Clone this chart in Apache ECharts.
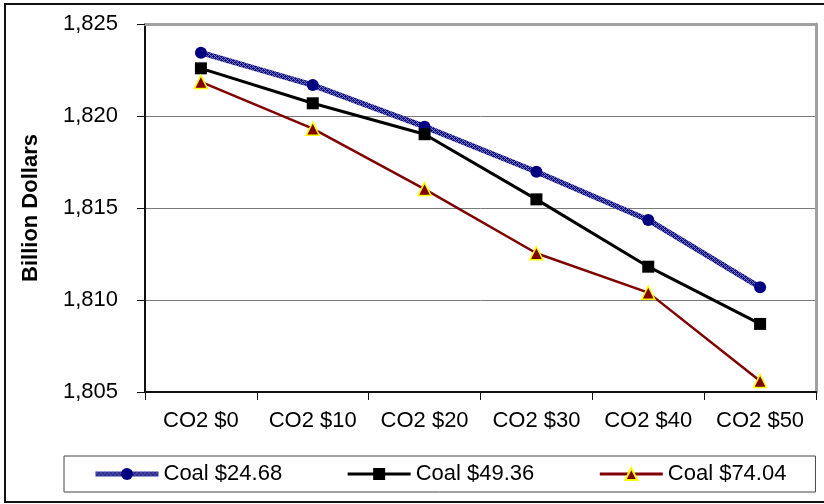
<!DOCTYPE html>
<html>
<head>
<meta charset="utf-8">
<style>
  html, body { margin: 0; padding: 0; background: #fff; }
  #chart { width: 824px; height: 504px; }
</style>
<script src="https://cdn.jsdelivr.net/npm/echarts@6/dist/echarts.min.js"></script>
</head>
<body>
<div id="chart"></div>
<script>
// Total cost (billion dollars) under CO2 price scenarios, by coal price
const categories = ['CO2 $0', 'CO2 $10', 'CO2 $20', 'CO2 $30', 'CO2 $40', 'CO2 $50'];
const coal2468 = [1823.44, 1821.68, 1819.42, 1816.97, 1814.35, 1810.69];
const coal4936 = [1822.59, 1820.69, 1819.01, 1815.47, 1811.81, 1808.70];
const coal7404 = [1821.85, 1819.31, 1816.03, 1812.54, 1810.40, 1805.60];
const seriesNames = ['Coal $24.68', 'Coal $49.36', 'Coal $74.04'];
const yMin = 1805, yMax = 1825, yStep = 5;

const FONT = "'Liberation Sans', Arial, sans-serif";

// Small dithered tile for the textured blue line
function makeHatch() {
  const c = document.createElement('canvas');
  c.width = 4; c.height = 4;
  const g = c.getContext('2d');
  g.fillStyle = '#7676bc';
  g.fillRect(0, 0, 4, 4);
  g.fillStyle = '#141484';
  [[0,0],[2,0],[1,1],[3,1],[0,2],[2,2],[1,3],[3,3],[1,0],[3,2]].forEach(p => g.fillRect(p[0], p[1], 1, 1));
  return c;
}
const hatch = { image: makeHatch(), repeat: 'repeat' };

const chart = echarts.init(document.getElementById('chart'), null, { renderer: 'canvas' });

chart.setOption({
  backgroundColor: '#ffffff',
  animation: false,
  textStyle: { fontFamily: FONT },
  graphic: [{
    type: 'rect',
    shape: { x: 5, y: 4, width: 840, height: 498 },
    style: { fill: 'none', stroke: '#111', lineWidth: 2 },
    silent: true
  }],
  grid: { left: 145, right: 8, top: 24, bottom: 112, containLabel: false },
  legend: {
    left: 64, top: 456,
    padding: [7, 29],
    itemGap: 64,
    itemWidth: 63,
    itemHeight: 15,
    borderColor: '#444',
    borderWidth: 1,
    textStyle: { fontSize: 22, color: '#000', fontFamily: FONT },
    data: [
      { name: seriesNames[0], lineStyle: { width: 5 } },
      { name: seriesNames[1], lineStyle: { width: 3 } },
      { name: seriesNames[2], lineStyle: { width: 3 } }
    ]
  },
  xAxis: [{
    type: 'category',
    data: categories,
    boundaryGap: true,
    axisLine: { lineStyle: { color: '#111', width: 2 } },
    axisTick: { show: true, length: 8, interval: 0, lineStyle: { color: '#111', width: 1 } },
    axisLabel: { fontSize: 22, color: '#000', margin: 18, interval: 0, fontFamily: FONT },
    splitLine: { show: false }
  }, {
    type: 'category',
    position: 'top',
    data: categories,
    axisLine: { lineStyle: { color: '#a0a0a0', width: 3 } },
    axisTick: { show: false },
    axisLabel: { show: false }
  }],
  yAxis: [{
    type: 'value',
    min: yMin, max: yMax, interval: yStep,
    name: 'Billion Dollars',
    nameLocation: 'middle',
    nameGap: 103,
    nameTextStyle: { fontSize: 22, fontWeight: 'bold', color: '#000', fontFamily: FONT },
    axisLine: { show: true, lineStyle: { color: '#111', width: 2 } },
    axisTick: { show: true, length: 8, lineStyle: { color: '#111', width: 1 } },
    axisLabel: {
      fontSize: 22, color: '#000', margin: 27, fontFamily: FONT,
      formatter: v => v.toLocaleString('en-US')
    },
    splitLine: { show: true, lineStyle: { color: '#7a7a7a', width: 1 } }
  }, {
    type: 'value',
    position: 'right',
    min: yMin, max: yMax, interval: yStep,
    axisLine: { show: true, lineStyle: { color: '#a0a0a0', width: 3 } },
    axisTick: { show: false },
    axisLabel: { show: false },
    splitLine: { show: false }
  }],
  series: [{
    name: seriesNames[0],
    type: 'line',
    data: coal2468,
    symbol: 'circle',
    symbolSize: 12,
    z: 4,
    lineStyle: { color: hatch, width: 5.5 },
    itemStyle: { color: '#000080', borderColor: '#000080', borderWidth: 0 }
  }, {
    name: seriesNames[1],
    type: 'line',
    data: coal4936,
    symbol: 'rect',
    symbolSize: 12,
    z: 5,
    lineStyle: { color: '#000000', width: 3 },
    itemStyle: { color: '#000000' }
  }, {
    name: seriesNames[2],
    type: 'line',
    data: coal7404,
    symbol: 'triangle',
    symbolSize: 13,
    z: 6,
    lineStyle: { color: '#800000', width: 2.5 },
    itemStyle: { color: '#800000', borderColor: '#ffff00', borderWidth: 1.5 }
  }]
});
</script>
</body>
</html>
